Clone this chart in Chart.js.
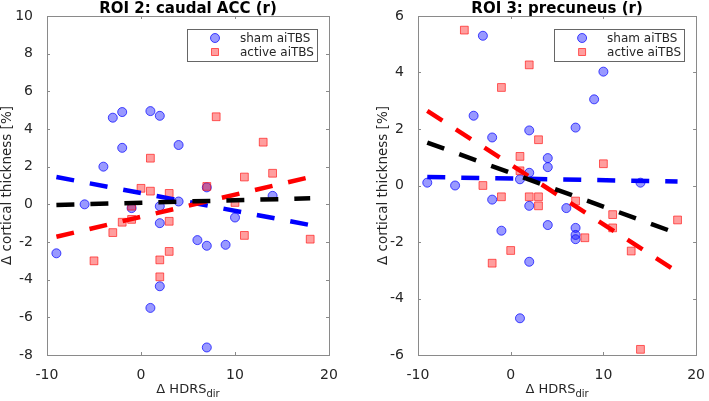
<!DOCTYPE html>
<html>
<head>
<meta charset="utf-8">
<script src="https://cdn.jsdelivr.net/npm/chart.js@4.4.1/dist/chart.umd.min.js"></script>
<style>
  body { margin: 0; background: #fff; }
  canvas { position: absolute; top: 0; }
  #roi2 { left: 0; }
  #roi3 { left: 354px; }
</style>
</head>
<body>
<canvas id="roi2" width="354" height="401"></canvas>
<canvas id="roi3" width="355" height="401"></canvas>
<script>
// x = change in HDRS (dir), y = change in cortical thickness [%]
var xTicks = [-10, 0, 10, 20];
var fitX = [-9, 18];

// ROI 2: caudal ACC (r)
var roi2ShamX = [-9, -6, -4, -3, -2, -2, -1, 1, 1, 2, 2, 2, 2, 4, 4, 6, 7, 7, 7, 9, 10, 14];
var roi2ShamY = [-2.6, 0, 2.0, 4.6, 4.9, 3.0, -0.2, 4.95, -5.5, 4.7, -0.1, -1.0, -4.35, 3.15, 0.15, -1.9, 0.9, -2.2, -7.6, -2.15, -0.7, 0.45];
var roi2ActiveX = [-5, -3, -2, -1, -1, 0, 1, 1, 2, 2, 3, 3, 3, 7, 8, 10, 11, 11, 13, 14, 18];
var roi2ActiveY = [-3.0, -1.5, -0.95, -0.8, -0.1, 0.85, 0.7, 2.45, -2.95, -3.85, 0.58, -0.9, -2.5, 0.95, 4.65, 0.1, 1.45, -1.65, 3.3, 1.65, -1.85];
var roi2FitSham = [1.45, -1.1];
var roi2FitActive = [-1.72, 1.45];
var roi2FitAll = [-0.03, 0.32];
var roi2YTicks = [-8, -6, -4, -2, 0, 2, 4, 6, 8, 10];

// ROI 3: precuneus (r)
var roi3ShamX = [-9, -6, -4, -3, -2, -2, -1, 1, 1, 2, 2, 2, 2, 4, 4, 4, 6, 7, 7, 7, 7, 9, 10, 14];
var roi3ShamY = [0.1, 0, 2.47, 5.3, 1.7, -0.5, -1.6, 0.22, -4.7, 1.95, 0.45, -0.72, -2.7, 0.97, 0.65, -1.4, -0.8, 2.05, -1.5, -1.75, -1.9, 3.05, 4.03, 0.1];
var roi3ActiveX = [-5, -3, -2, -1, -1, 0, 1, 1, 2, 2, 3, 3, 3, 7, 8, 10, 11, 11, 13, 14, 18];
var roi3ActiveY = [5.5, 0, -2.75, 3.47, -0.4, -2.3, 1.03, 0.52, 4.27, -0.4, 1.62, -0.4, -0.72, -0.55, -1.85, 0.77, -1.03, -1.5, -2.32, -5.8, -1.22];
var roi3FitSham = [0.3, 0.14];
var roi3FitActive = [2.64, -3.06];
var roi3FitAll = [1.52, -1.7];
var roi3YTicks = [-6, -4, -2, 0, 2, 4, 6];

var axisGray = '#8a8a8a';
var textColor = '#262626';
var shamFill = 'rgba(0, 0, 255, 0.4)', shamEdge = 'rgba(0, 0, 255, 0.7)';
var activeFill = 'rgba(255, 0, 0, 0.38)', activeEdge = 'rgba(255, 0, 0, 0.6)';

function pts(xs, ys) {
  return xs.map(function (x, i) { return { x: x, y: ys[i] }; });
}

// box, inward ticks, title, axis labels and legend in the matlab look
const matlabAxes = {
  id: 'matlabAxes',
  afterDraw(chart, args, opts) {
    var c = chart.ctx, a = chart.chartArea;
    var sx = chart.scales.x, sy = chart.scales.y;
    c.save();
    c.strokeStyle = axisGray;
    c.lineWidth = 1;
    c.strokeRect(Math.round(a.left) + 0.5, Math.round(a.top) + 0.5,
                 Math.round(a.right - a.left), Math.round(a.bottom - a.top));
    c.beginPath();
    sx.ticks.forEach(function (t) {
      var px = Math.round(sx.getPixelForValue(t.value)) + 0.5;
      c.moveTo(px, a.bottom); c.lineTo(px, a.bottom - 3);
      c.moveTo(px, a.top); c.lineTo(px, a.top + 3);
    });
    sy.ticks.forEach(function (t) {
      var py = Math.round(sy.getPixelForValue(t.value)) + 0.5;
      c.moveTo(a.left, py); c.lineTo(a.left + 3, py);
      c.moveTo(a.right, py); c.lineTo(a.right - 3, py);
    });
    c.stroke();

    var cx = (a.left + a.right) / 2;
    c.fillStyle = '#000';
    c.textAlign = 'center';
    c.textBaseline = 'alphabetic';
    c.font = 'bold 15px "DejaVu Sans"';
    c.fillText(opts.title, cx, 13);

    // x label with subscript
    c.fillStyle = textColor;
    c.font = '13px "DejaVu Sans"';
    var main = '\u0394 HDRS', w1 = c.measureText(main).width;
    c.font = '10px "DejaVu Sans"';
    var w2 = c.measureText('dir').width;
    var x0 = cx - (w1 + w2) / 2;
    c.textAlign = 'left';
    c.font = '13px "DejaVu Sans"';
    c.fillText(main, x0, 393);
    c.font = '10px "DejaVu Sans"';
    c.fillText('dir', x0 + w1, 397);

    // y label
    c.save();
    c.translate(opts.yLabelX, (a.top + a.bottom) / 2);
    c.rotate(-Math.PI / 2);
    c.textAlign = 'center';
    c.textBaseline = 'middle';
    c.font = '13.5px "DejaVu Sans"';
    c.fillText('\u0394 cortical thickness [%]', 0, 0);
    c.restore();

    // legend
    var bw = 130, bh = 32, bx = a.right - 12 - bw, by = a.top + 13;
    c.fillStyle = '#fff';
    c.fillRect(bx, by, bw, bh);
    c.strokeStyle = '#666';
    c.strokeRect(Math.round(bx) + 0.5, Math.round(by) + 0.5, bw, bh);
    var rows = [chart.data.datasets[0], chart.data.datasets[1]];
    rows.forEach(function (ds, i) {
      var my = by + 9 + i * 14, mx = bx + 28;
      c.fillStyle = ds.backgroundColor;
      c.strokeStyle = ds.borderColor;
      c.beginPath();
      if (ds.pointStyle === 'rect') {
        c.rect(mx - 3.5, my - 3.5, 7, 7);
      } else {
        c.arc(mx, my, 4.5, 0, Math.PI * 2);
      }
      c.fill(); c.stroke();
      c.fillStyle = textColor;
      c.font = '12px "DejaVu Sans"';
      c.textAlign = 'left';
      c.textBaseline = 'middle';
      c.fillText(ds.label, bx + 53, my + 0.5);
    });
    c.restore();
  }
};

function makeChart(id, cfg) {
  var fit = function (ys, color, ord) {
    return {
      type: 'line', label: 'fit', data: pts(fitX, ys), showLine: true,
      borderColor: color, borderWidth: 4.5, borderDash: [18, 16],
      borderCapStyle: 'butt', pointRadius: 0, order: ord
    };
  };
  const config = {
    type: 'scatter',
    data: {
      datasets: [
        { label: 'sham aiTBS', data: pts(cfg.shamX, cfg.shamY), pointStyle: 'circle',
          pointRadius: 4.5, pointBorderWidth: 1, backgroundColor: shamFill, borderColor: shamEdge, order: 4 },
        { label: 'active aiTBS', data: pts(cfg.activeX, cfg.activeY), pointStyle: 'rect',
          pointRadius: 5.5, pointBorderWidth: 1, backgroundColor: activeFill, borderColor: activeEdge, order: 3 },
        fit(cfg.fitSham, '#0000ff', 2),
        fit(cfg.fitActive, '#ff0000', 1),
        fit(cfg.fitAll, '#000000', 0)
      ]
    },
    options: {
      responsive: false,
      animation: false,
      devicePixelRatio: 1,
      layout: { padding: { left: 0, right: cfg.padRight, top: 16, bottom: 0 } },
      plugins: {
        legend: { display: false },
        tooltip: { enabled: false },
        matlabAxes: { title: cfg.title, yLabelX: cfg.yLabelX }
      },
      scales: {
        x: {
          min: -10, max: 20,
          afterBuildTicks: function (s) { s.ticks = xTicks.map(function (v) { return { value: v }; }); },
          afterFit: function (s) { s.height = 46; },
          grid: { display: false }, border: { display: false },
          ticks: { color: textColor, font: { family: 'DejaVu Sans', size: 14 }, padding: 4, maxRotation: 0 }
        },
        y: {
          min: cfg.yTicks[0], max: cfg.yTicks[cfg.yTicks.length - 1],
          afterBuildTicks: function (s) { s.ticks = cfg.yTicks.map(function (v) { return { value: v }; }); },
          afterFit: function (s) { s.width = cfg.yWidth; },
          grid: { display: false }, border: { display: false },
          ticks: { color: textColor, font: { family: 'DejaVu Sans', size: 14 }, padding: 6 }
        }
      }
    },
    plugins: [matlabAxes]
  };
  return new Chart(document.getElementById(id), config);
}

const chartRoi2 = makeChart('roi2', {
  title: 'ROI 2: caudal ACC (r)', shamX: roi2ShamX, shamY: roi2ShamY,
  activeX: roi2ActiveX, activeY: roi2ActiveY, fitSham: roi2FitSham,
  fitActive: roi2FitActive, fitAll: roi2FitAll, yTicks: roi2YTicks,
  yWidth: 47, padRight: 25, yLabelX: 7
});
const chartRoi3 = makeChart('roi3', {
  title: 'ROI 3: precuneus (r)', shamX: roi3ShamX, shamY: roi3ShamY,
  activeX: roi3ActiveX, activeY: roi3ActiveY, fitSham: roi3FitSham,
  fitActive: roi3FitActive, fitAll: roi3FitAll, yTicks: roi3YTicks,
  yWidth: 64, padRight: 10, yLabelX: 29
});
</script>
</body>
</html>
